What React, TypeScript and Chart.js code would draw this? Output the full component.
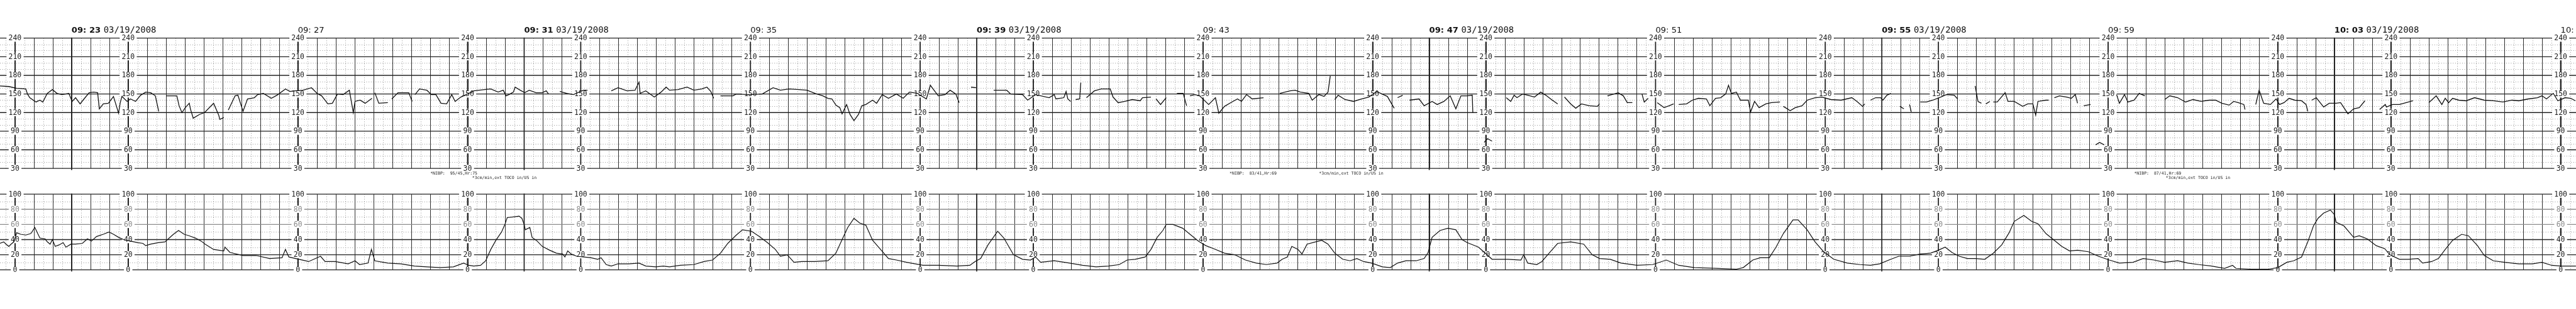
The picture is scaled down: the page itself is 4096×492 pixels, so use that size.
import React, { useEffect, useRef } from "react";
import { Chart, registerables } from "chart.js";

Chart.register(...registerables);

const W = 4096;
const H = 492;
const K = W / 5000; // reference -> window

// ---- tick labels / text ----
const FHR_TICKS = [240, 210, 180, 150, 120, 90, 60, 30];
const UC_TICKS = [100, 80, 60, 40, 20, 0];
const UC_FADED_TICKS = [80, 60];
const TIME_LABELS = ["09: 23", "09: 27", "09: 31", "09: 35", "09: 39", "09: 43", "09: 47", "09: 51", "09: 55", "09: 59", "10: 03", "10: 07"];
const TIME_LABEL_STEP_MIN = 4;
const DATE_LABEL = "03/19/2008";
const SCALE_COLUMN_PHASES = [1, 4, 7]; // minute within each 8-minute page
const PAGE_MINUTES = 8;
const NOTES = [
  { at: 6.34, line: 0, text: "*NIBP:  95/45,Hr:75" },
  { at: 7.08, line: 1, text: "*3cm/min,ext TOCO in/US in" },
  { at: 20.47, line: 0, text: "*NIBP:  83/41,Hr:69" },
  { at: 22.05, line: 0, text: "*3cm/min,ext TOCO in/US in" },
  { at: 36.46, line: 0, text: "*NIBP:  87/41,Hr:69" },
  { at: 37.02, line: 1, text: "*3cm/min,ext TOCO in/US in" },
];

// ---- series: [minutes after 09:23, value] ----
const FHR_READINGS: [number, number | null][] = [
  [-1.27, 163], [-1.11, 162], [-0.97, 159], [-0.81, 158], [-0.78, 150], [-0.74, 144], [-0.63, 137], [-0.56, 140], [-0.51, 137], [-0.43, 151], [-0.34, 157], [-0.26, 151], [-0.17, 149], [-0.05, 151],
  [0.01, 138], [0.07, 144], [0.15, 134], [0.22, 142], [0.31, 152], [0.39, 153], [0.46, 152], [0.49, 126], [0.56, 134], [0.65, 135], [0.74, 146], [0.83, 119], [0.86, 136], [0.89, 146], [0.98, 138],
  [1.04, 142], [1.13, 138], [1.22, 148], [1.31, 153], [1.4, 152], [1.48, 147], [1.54, 122], [1.6, null],
  [1.67, 147], [1.74, 147], [1.86, 147], [1.9, 131], [1.95, 120], [2.01, 128], [2.08, 135], [2.1, 126], [2.15, 111], [2.26, 117], [2.35, 120], [2.51, 135], [2.6, 116], [2.62, 109], [2.69, 112], [2.73, null],
  [2.77, 124], [2.89, 147], [2.94, 148], [3.03, 122], [3.11, 142], [3.23, 144], [3.29, 149], [3.39, 151], [3.53, 143], [3.63, 148], [3.78, 158], [3.86, 154], [3.95, 155],
  [4.09, 156], [4.24, 160], [4.34, 151], [4.42, 147], [4.53, 134], [4.61, 135], [4.7, 150], [4.8, 149], [4.91, 156], [4.96, 130], [4.98, 120], [5.01, 138], [5.1, 140], [5.19, 135], [5.31, 143], [5.33, null],
  [5.36, 152], [5.43, 135], [5.59, 136], [5.62, null], [5.66, 142], [5.77, 152], [5.96, 152], [6.02, 138], [6.04, null],
  [6.07, 149], [6.15, 158], [6.28, 156], [6.36, 149], [6.44, 149], [6.53, 135], [6.63, 134], [6.72, 149], [6.78, 138], [6.88, 145], [7.0, 150], [7.11, 155], [7.3, 157], [7.41, 158], [7.54, 153], [7.63, 156], [7.68, 147], [7.73, 149], [7.81, 153], [7.84, 161], [7.93, 156],
  [8.01, 152], [8.09, 156], [8.21, 152], [8.32, 152], [8.39, 155], [8.43, 150], [8.5, null], [8.63, 154], [8.75, 151], [8.87, 149], [9.05, 156], [9.12, 156], [9.3, null],
  [9.54, 155], [9.66, 160], [9.82, 155], [9.96, 156], [10.03, 169], [10.05, 151], [10.15, 155], [10.3, 145], [10.42, 153], [10.51, 161], [10.57, 156], [10.72, 157], [10.88, 161], [11.0, 156], [11.14, 158], [11.23, 161], [11.3, 154], [11.35, 143], [11.4, null],
  [11.47, 147], [11.69, 147], [11.75, 150], [11.98, 149], [12.21, 150], [12.4, 160], [12.53, 156], [12.68, 158], [12.86, 157], [13.0, 156], [13.14, 151], [13.28, 147], [13.37, 143], [13.44, 142], [13.51, 132], [13.58, 128], [13.62, 118], [13.7, 133], [13.76, 117], [13.83, 107], [13.91, 117], [13.97, 131],
  [14.04, 133], [14.16, 140], [14.23, 135], [14.33, 149], [14.44, 143], [14.58, 150], [14.7, 143], [14.81, 153], [14.95, 151], [15.11, 142], [15.18, 164], [15.32, 147], [15.44, 149], [15.53, 156], [15.63, 150], [15.69, 136], [15.75, null],
  [15.9, 161], [15.99, 160], [16.1, null],
  [16.3, 156], [16.53, 156], [16.6, 150], [16.81, 149], [16.9, 140], [17.04, 149], [17.28, 144], [17.37, 149], [17.4, 142], [17.54, 144], [17.58, 154], [17.61, 142], [17.66, 138], [17.7, null],
  [17.75, 141], [17.82, 142], [17.84, 168], [17.88, null],
  [17.94, 144], [18.08, 155], [18.2, 158], [18.36, 158], [18.41, 145], [18.5, 136], [18.62, 138], [18.75, 141], [18.89, 139], [18.93, 144], [19.08, 145], [19.12, null],
  [19.17, 142], [19.25, 133], [19.35, 144], [19.45, null], [19.54, 151], [19.65, 151], [19.71, 131], [19.74, null],
  [19.77, 147], [19.86, 149], [19.94, 147], [20.1, 133], [20.22, 144], [20.28, 119], [20.38, 130], [20.49, 136], [20.61, 142], [20.68, 138], [20.77, 149], [20.87, 142], [21.07, 144], [21.2, null],
  [21.36, 151], [21.54, 155], [21.63, 156], [21.72, 153], [21.87, 151], [21.93, 140], [22.05, 149], [22.14, 146], [22.21, 153], [22.25, 179], [22.29, null],
  [22.33, 141], [22.39, 148], [22.51, 141], [22.66, 138], [22.8, 142], [22.93, 145], [23.07, 154], [23.26, 146], [23.38, 127], [23.41, null],
  [23.44, 144], [23.53, 148], [23.59, null],
  [23.65, 140], [23.82, 142], [23.91, 131], [24.05, 138], [24.14, 133], [24.26, 138], [24.37, 147], [24.47, 126], [24.56, 147], [24.67, 147], [24.76, 148], [24.77, 120], [24.85, null],
  [24.97, 72], [25.03, 78], [25.11, 74], [25.2, null],
  [25.36, 144], [25.44, 138], [25.5, 148], [25.55, 144], [25.65, 150], [25.74, 148], [25.86, 145], [25.97, 153], [26.06, 148], [26.16, 141], [26.27, 134], [26.33, null],
  [26.39, 145], [26.5, 134], [26.59, 127], [26.69, 134], [26.83, 131], [26.97, 130], [27.01, 134], [27.08, null],
  [27.15, 147], [27.34, 152], [27.43, 147], [27.5, 136], [27.59, 136], [27.68, null],
  [27.76, 150], [27.8, 137], [27.87, 143], [27.95, null],
  [28.03, 136], [28.15, 128], [28.24, 131], [28.32, 134], [28.37, null],
  [28.41, 133], [28.55, 134], [28.65, 140], [28.76, 143], [28.9, 142], [28.96, 131], [29.06, 143], [29.15, 144], [29.24, 150], [29.29, 164], [29.34, 151], [29.43, 153], [29.5, 140], [29.64, 140], [29.68, 121], [29.75, 138], [29.83, 128], [29.95, 134], [30.05, 136], [30.2, 137], [30.23, null],
  [30.26, 130], [30.38, 123], [30.47, 128], [30.59, 131], [30.68, 140], [30.82, 144], [30.94, 145], [31.1, 141], [31.28, 140], [31.47, 144], [31.56, 138], [31.66, 130], [31.7, 134], [31.75, null],
  [31.8, 140], [31.89, 144], [31.98, 144], [32.02, 140], [32.09, 148], [32.16, 151], [32.24, null],
  [32.32, 130], [32.39, 126], [32.44, null], [32.49, 133], [32.52, 121], [32.6, null],
  [32.68, 137], [32.79, 137], [32.9, 140], [33.04, 145], [33.14, 149], [33.28, 148], [33.34, 142], [33.5, null],
  [33.65, 163], [33.7, 138], [33.76, 135], [33.8, null], [33.84, 134], [33.91, 138], [33.94, null],
  [33.97, 137], [34.04, 137], [34.18, 152], [34.23, 138], [34.34, 138], [34.49, 130], [34.58, 134], [34.67, 134], [34.72, 116], [34.76, 138], [34.9, 140], [34.95, 140], [35.0, null],
  [35.05, 144], [35.14, 147], [35.27, 145], [35.35, 143], [35.42, 149], [35.46, 135], [35.52, null],
  [35.57, 131], [35.69, 133], [35.73, null], [35.78, 68], [35.85, 72], [35.93, 68], [36.05, null],
  [36.15, 149], [36.2, 135], [36.29, 149], [36.35, 137], [36.46, 140], [36.55, 151], [36.65, 147], [36.8, null],
  [37.0, 141], [37.09, 147], [37.23, 144], [37.37, 137], [37.5, 141], [37.64, 138], [37.79, 140], [37.9, 140], [38.01, 135], [38.14, 132], [38.22, 138], [38.3, 136], [38.4, 133], [38.42, 125], [38.5, null],
  [38.61, 133], [38.67, 156], [38.75, 135], [38.87, 133], [38.97, 142], [39.03, 133], [39.11, 136], [39.2, 143], [39.3, 140], [39.42, 139], [39.5, 133], [39.53, 122], [39.56, null],
  [39.6, 140], [39.68, 144], [39.81, 129], [39.91, 135], [40.03, 135], [40.11, 136], [40.24, 118], [40.34, 126], [40.44, 128], [40.54, 139], [40.65, null],
  [40.8, 125], [40.9, 133], [40.92, 129], [41.03, 133], [41.15, 133], [41.27, 136], [41.39, 139], [41.5, null],
  [41.67, 136], [41.8, 147], [41.9, 133], [41.96, 143], [42.02, 136], [42.09, 143], [42.2, 140], [42.33, 139], [42.48, 144], [42.65, 140], [42.81, 139], [42.98, 137], [43.14, 140], [43.26, 139], [43.43, 142], [43.59, 144], [43.67, 147], [43.75, 142], [43.87, 151], [43.95, 139], [44.08, 144], [44.18, 143], [44.26, 139],
];

const UC_READINGS: [number, number][] = [
  [-1.27, 35], [-1.2, 37], [-1.16, 34], [-1.11, 31], [-1.07, 34], [-1.02, 37], [-0.97, 49], [-0.9, 47], [-0.81, 46], [-0.72, 48], [-0.65, 56], [-0.6, 48], [-0.56, 42], [-0.47, 41], [-0.43, 37], [-0.38, 34], [-0.34, 40], [-0.29, 31], [-0.22, 33], [-0.15, 36], [-0.1, 30], [-0.01, 34],
  [0.07, 34], [0.19, 35], [0.28, 41], [0.35, 38], [0.44, 44], [0.56, 47], [0.66, 50], [0.74, 47], [0.83, 43], [0.92, 40], [1.04, 38], [1.17, 36], [1.26, 35], [1.31, 32], [1.4, 34], [1.53, 36], [1.65, 37], [1.71, 41], [1.8, 47], [1.89, 52], [1.99, 47],
  [2.08, 45], [2.19, 42], [2.29, 38], [2.36, 34], [2.51, 27], [2.69, 25], [2.71, 30], [2.8, 23], [3.03, 19], [3.26, 19], [3.5, 15], [3.72, 16], [3.78, 27], [3.84, 17], [4.02, 14], [4.19, 11], [4.4, 18], [4.48, 11], [4.66, 11], [4.89, 8],
  [5.01, 12], [5.09, 7], [5.24, 9], [5.3, 27], [5.36, 12], [5.59, 9], [5.82, 8], [6.06, 5], [6.28, 4], [6.52, 3], [6.75, 4], [6.93, 9], [7.02, 6], [7.11, 5], [7.23, 6], [7.32, 12], [7.41, 27], [7.5, 39], [7.6, 50], [7.66, 60], [7.7, 69], [7.81, 70], [7.91, 71], [7.96, 68],
  [8.0, 60], [8.02, 53], [8.1, 56], [8.14, 43], [8.23, 38], [8.32, 31], [8.45, 26], [8.57, 22], [8.68, 21], [8.72, 17], [8.77, 25], [8.83, 21], [8.93, 18], [9.05, 17], [9.18, 16], [9.3, 14], [9.36, 16], [9.45, 7], [9.54, 5], [9.66, 8], [9.85, 8],
  [10.03, 9], [10.15, 5], [10.33, 4], [10.46, 5], [10.57, 4], [10.76, 6], [11.0, 7], [11.18, 11], [11.33, 13], [11.47, 22], [11.6, 35], [11.75, 46], [11.86, 53], [12.02, 51], [12.16, 44], [12.3, 36], [12.44, 27], [12.53, 18], [12.65, 20], [12.77, 10], [12.91, 11],
  [13.14, 11], [13.37, 12], [13.51, 22], [13.62, 40], [13.72, 56], [13.83, 68], [13.93, 62], [14.04, 59], [14.16, 39], [14.3, 27], [14.44, 15], [14.58, 13], [14.76, 10], [15.05, 6], [15.32, 6], [15.65, 5], [15.88, 6], [15.97, 11],
  [16.07, 15], [16.2, 33], [16.37, 51], [16.48, 42], [16.65, 20], [16.81, 14], [16.95, 13], [17.04, 17], [17.13, 10], [17.37, 12], [17.64, 9], [17.87, 6], [18.11, 4], [18.33, 5], [18.52, 7], [18.66, 13], [18.8, 14], [18.98, 17],
  [19.08, 27], [19.19, 43], [19.29, 52], [19.35, 60], [19.47, 60], [19.64, 55], [19.77, 47], [19.92, 38], [20.05, 32], [20.19, 28], [20.38, 22], [20.56, 20], [20.75, 13], [20.94, 9], [21.12, 7], [21.31, 9], [21.4, 14], [21.49, 17], [21.57, 31], [21.68, 27], [21.75, 21], [21.84, 34], [21.99, 37],
  [22.1, 39], [22.21, 34], [22.33, 22], [22.47, 14], [22.6, 12], [22.72, 15], [22.84, 11], [22.98, 9], [23.17, 4], [23.31, 3], [23.44, 9], [23.59, 12], [23.77, 12], [23.91, 15], [23.98, 23],
  [24.05, 43], [24.19, 52], [24.33, 55], [24.47, 53], [24.58, 40], [24.67, 36], [24.87, 30], [25.11, 14], [25.39, 14], [25.62, 13], [25.67, 20], [25.74, 9], [25.9, 7], [25.99, 11], [26.13, 23], [26.27, 35], [26.5, 37], [26.73, 34], [26.88, 20],
  [27.01, 15], [27.2, 14], [27.39, 9], [27.67, 6], [27.95, 7], [28.19, 13], [28.41, 6], [28.69, 3], [29.11, 2], [29.43, 1], [29.55, 3], [29.72, 13], [29.85, 16], [30.01, 16], [30.13, 30], [30.26, 48], [30.43, 66], [30.52, 66], [30.68, 53], [30.82, 37], [30.97, 24],
  [31.15, 14], [31.39, 9], [31.61, 7], [31.8, 6], [31.96, 8], [32.16, 14], [32.3, 18], [32.49, 18], [32.68, 21], [32.86, 22], [33.0, 26], [33.12, 30], [33.24, 23], [33.37, 18], [33.51, 15], [33.65, 15], [33.82, 14], [33.97, 22],
  [34.12, 33], [34.25, 49], [34.34, 64], [34.51, 72], [34.65, 64], [34.76, 61], [34.9, 48], [35.05, 39], [35.18, 31], [35.32, 25], [35.46, 26], [35.65, 24], [35.83, 18], [36.02, 13], [36.2, 9], [36.44, 10], [36.62, 15], [36.81, 13],
  [37.0, 10], [37.23, 12], [37.41, 9], [37.6, 7], [37.83, 5], [38.06, 2], [38.2, 6], [38.26, 2], [38.51, 1], [38.84, 1], [39.0, 3], [39.16, 10], [39.28, 12], [39.42, 17], [39.53, 37], [39.63, 58], [39.71, 68], [39.81, 75], [39.93, 79],
  [40.0, 73], [40.03, 63], [40.17, 58], [40.34, 43], [40.44, 45], [40.58, 41], [40.74, 32], [40.89, 28], [40.98, 20], [41.15, 14], [41.31, 14], [41.48, 15], [41.56, 9], [41.72, 11], [41.84, 15], [41.96, 27],
  [42.09, 39], [42.25, 47], [42.37, 45], [42.53, 32], [42.65, 19], [42.81, 12], [43.01, 10], [43.26, 8], [43.5, 8], [43.67, 10], [43.84, 6], [44.0, 5], [44.16, 5], [44.27, 5],
];

// ---- layout of the paper (reference-pixel based ranges) ----
const X_MIN = -139 / 109.8;
const X_MAX = 4861 / 109.8;
const FHR_AXIS = { min: -196.5, max: 301.4, top: 240, bottom: 30, minor: 10, major: 30 };
const UC_AXIS = { min: -51.7, max: 356.5, top: 100, bottom: 0, minor: 10, major: 20 };

const INK = "#2e2e2e";
const DOT = "#9a9a9a";

const paperPlugin = {
  id: "ctgPaper",
  beforeDatasetsDraw(chart: any) {
    const { ctx } = chart;
    const x = chart.scales.x;
    const yF = chart.scales.yF;
    const yU = chart.scales.yU;
    const w = chart.width;
    ctx.save();
    ctx.fillStyle = "#ffffff";
    ctx.fillRect(0, 0, chart.width, chart.height);

    const panels = [
      { y: yF, a: FHR_AXIS, ticks: FHR_TICKS, faded: [] as number[] },
      { y: yU, a: UC_AXIS, ticks: UC_TICKS, faded: UC_FADED_TICKS },
    ];
    const iStart = Math.ceil(x.min * 6);
    const iEnd = Math.floor(x.max * 6);
    const snap = (v: number) => Math.round(v) + 0.5;

    for (const p of panels) {
      const yt = p.y.getPixelForValue(p.a.top);
      const yb = p.y.getPixelForValue(p.a.bottom);
      // minor dotted verticals (every 10 s)
      ctx.setLineDash([1.3 * K, 3.2 * K]);
      ctx.strokeStyle = DOT;
      ctx.lineWidth = 1;
      ctx.beginPath();
      for (let i = iStart; i <= iEnd; i++) {
        if (i % 2 === 0) continue;
        const px = snap(x.getPixelForValue(i / 6));
        ctx.moveTo(px, yt);
        ctx.lineTo(px, yb);
      }
      // minor dotted horizontals
      for (let v = p.a.bottom; v <= p.a.top; v += p.a.minor) {
        if ((v - p.a.bottom) % p.a.major === 0) continue;
        const py = snap(p.y.getPixelForValue(v));
        ctx.moveTo(0, py);
        ctx.lineTo(w, py);
      }
      ctx.stroke();
      ctx.setLineDash([]);
      // major verticals (every 20 s)
      ctx.strokeStyle = INK;
      ctx.lineWidth = 1;
      ctx.beginPath();
      for (let i = iStart; i <= iEnd; i++) {
        if (i % 2 !== 0) continue;
        const px = snap(x.getPixelForValue(i / 6));
        ctx.moveTo(px, yt);
        ctx.lineTo(px, yb);
      }
      ctx.stroke();
      // major horizontals
      for (let v = p.a.bottom; v <= p.a.top; v += p.a.major) {
        const py = p.y.getPixelForValue(v);
        ctx.strokeStyle = p.faded.includes(v) ? "#8c8c8c" : "#222";
        ctx.lineWidth = 1.35;
        ctx.beginPath();
        ctx.moveTo(0, py);
        ctx.lineTo(w, py);
        ctx.stroke();
      }
      // page joins (slightly heavier line every 8 minutes)
      ctx.strokeStyle = "#222";
      ctx.lineWidth = 1.7;
      ctx.beginPath();
      for (let m = Math.ceil(x.min); m <= Math.floor(x.max); m++) {
        if (((m % PAGE_MINUTES) + PAGE_MINUTES) % PAGE_MINUTES !== 0) continue;
        const px = x.getPixelForValue(m);
        ctx.moveTo(px, yt - 1);
        ctx.lineTo(px, yb + 3 * K);
      }
      ctx.stroke();

      // scale columns
      ctx.font = `${14 * K}px "DejaVu Sans Mono", monospace`;
      ctx.textAlign = "center";
      ctx.textBaseline = "middle";
      for (let m = Math.ceil(x.min); m <= Math.floor(x.max); m++) {
        const ph = ((m % PAGE_MINUTES) + PAGE_MINUTES) % PAGE_MINUTES;
        if (!SCALE_COLUMN_PHASES.includes(ph)) continue;
        const px = x.getPixelForValue(m);
        ctx.strokeStyle = "#222";
        ctx.lineWidth = 1.8;
        ctx.beginPath();
        ctx.moveTo(px, yt);
        ctx.lineTo(px, yb);
        ctx.stroke();
        for (const v of p.ticks) {
          const py = p.y.getPixelForValue(v);
          const label = String(v);
          const tw = ctx.measureText(label).width;
          ctx.fillStyle = "#ffffff";
          ctx.fillRect(px - tw / 2 - 4 * K, py - 7 * K, tw + 8 * K, 14 * K);
          ctx.fillStyle = p.faded.includes(v) ? "#8a8a8a" : "#202020";
          ctx.fillText(label, px, py + 0.5 * K);
        }
      }
    }

    // time labels
    const baseY = yF.getPixelForValue(FHR_AXIS.top) - 10 * K;
    ctx.textAlign = "left";
    ctx.textBaseline = "alphabetic";
    TIME_LABELS.forEach((lab, i) => {
      const px = x.getPixelForValue(i * TIME_LABEL_STEP_MIN);
      const withDate = i % 2 === 0;
      ctx.fillStyle = "#111";
      ctx.font = `${withDate ? "bold " : ""}${16 * K}px "DejaVu Sans", sans-serif`;
      ctx.fillText(lab, px, baseY);
      if (withDate) {
        ctx.font = `${17 * K}px "DejaVu Sans Mono", monospace`;
        ctx.fillText(DATE_LABEL, px + 62 * K, baseY);
      }
    });

    // printer notes
    const noteY = yF.getPixelForValue(FHR_AXIS.bottom);
    ctx.font = `${8 * K}px "DejaVu Sans Mono", monospace`;
    ctx.fillStyle = "#222";
    for (const n of NOTES) {
      ctx.fillText(n.text, x.getPixelForValue(n.at), noteY + (12 + n.line * 9) * K);
    }
    ctx.restore();
  },
};

export default function App() {
  const ref = useRef<HTMLCanvasElement | null>(null);
  useEffect(() => {
    const canvas = ref.current;
    if (!canvas) return;
    const fhr = FHR_READINGS.map(([t, v]) => ({ x: t, y: v }));
    const uc = UC_READINGS.map(([t, v]) => ({ x: t, y: v }));
    const chart = new Chart(canvas, {
      type: "line",
      data: {
        datasets: [
          { label: "FHR (bpm)", data: fhr as any, yAxisID: "yF", borderColor: "#111", borderWidth: 1.3, pointRadius: 0, tension: 0, spanGaps: false },
          { label: "UC", data: uc as any, yAxisID: "yU", borderColor: "#111", borderWidth: 1.2, pointRadius: 0, tension: 0, spanGaps: false },
        ],
      },
      options: {
        animation: false,
        responsive: false,
        devicePixelRatio: 1,
        events: [],
        layout: { padding: 0 },
        plugins: { legend: { display: false }, tooltip: { enabled: false } },
        scales: {
          x: { type: "linear", min: X_MIN, max: X_MAX, display: false },
          yF: { type: "linear", min: FHR_AXIS.min, max: FHR_AXIS.max, display: false },
          yU: { type: "linear", min: UC_AXIS.min, max: UC_AXIS.max, display: false },
        },
      },
      plugins: [paperPlugin],
    });
    return () => chart.destroy();
  }, []);
  return (
    <div style={{ width: W, height: H, background: "#fff" }}>
      <style>{`body{margin:0;background:#fff}`}</style>
      <canvas ref={ref} width={W} height={H} style={{ display: "block", width: W, height: H }} />
    </div>
  );
}
